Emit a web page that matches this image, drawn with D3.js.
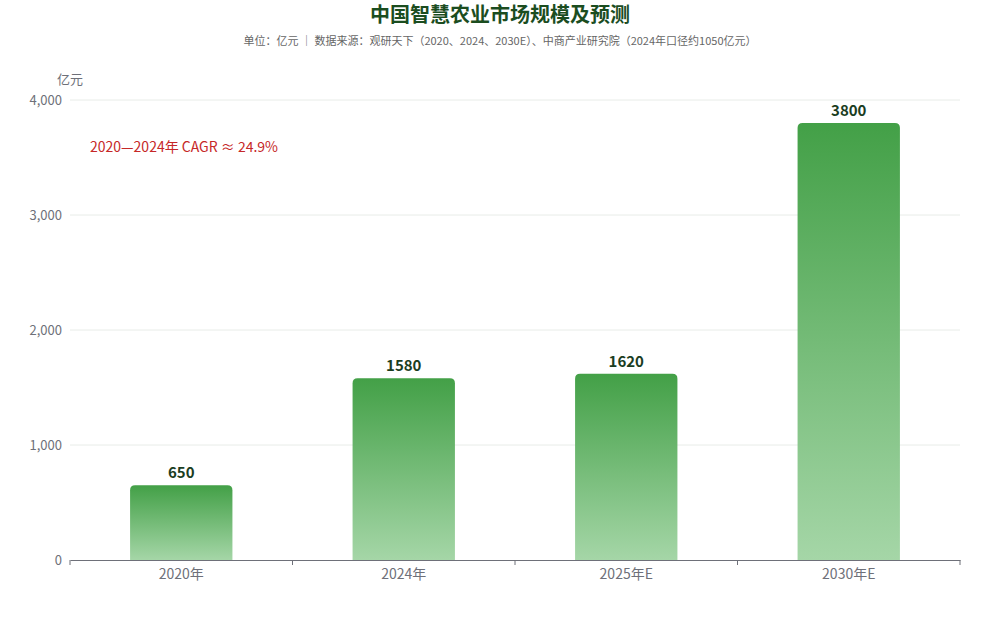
<!DOCTYPE html>
<html>
<head>
<meta charset="utf-8">
<script src="https://cdn.jsdelivr.net/npm/d3@7"></script>
<style>
  body { margin: 0; background: #fff; font-family: "Noto Sans CJK SC", "Noto Sans", sans-serif; }
</style>
</head>
<body>
<div id="chart"></div>
<script>
const categories = ["2020年", "2024年", "2025年E", "2030年E"];
const values = [650, 1580, 1620, 3800];
const yTicks = [0, 1000, 2000, 3000, 4000];

const W = 1000, H = 620;
const m = { top: 100, right: 40, bottom: 60, left: 70 };

const svg = d3.select("#chart").append("svg")
  .attr("width", W).attr("height", H)
  .style("font-family", '"Noto Sans CJK SC", "Noto Sans", sans-serif');

const defs = svg.append("defs");
const grad = defs.append("linearGradient")
  .attr("id", "barGrad").attr("x1", 0).attr("y1", 0).attr("x2", 0).attr("y2", 1);
grad.append("stop").attr("offset", "0%").attr("stop-color", "#43a047");
grad.append("stop").attr("offset", "100%").attr("stop-color", "#a5d6a7");

const x = d3.scaleBand().domain(categories).range([m.left, W - m.right]).paddingInner(0.54).paddingOuter(0.27);
const y = d3.scaleLinear().domain([0, 4000]).range([H - m.bottom, m.top]);

// title
svg.append("text").attr("x", W / 2).attr("y", 22).attr("text-anchor", "middle")
  .attr("font-size", 20).attr("font-weight", "bold").attr("fill", "#1b4d1f")
  .text("中国智慧农业市场规模及预测");
svg.append("text").attr("x", W / 2).attr("y", 45).attr("text-anchor", "middle")
  .attr("font-size", 11).attr("fill", "#666")
  .text("单位：亿元 ｜ 数据来源：观研天下（2020、2024、2030E）、中商产业研究院（2024年口径约1050亿元）");

// grid lines
svg.append("g").selectAll("line").data(yTicks.filter(d => d > 0)).join("line")
  .attr("x1", m.left).attr("x2", W - m.right)
  .attr("y1", d => y(d)).attr("y2", d => y(d))
  .attr("stroke", "#e8ece8").attr("stroke-width", 1);

// y axis labels
const yAxis = svg.append("g").attr("transform", `translate(${m.left},0)`)
  .call(d3.axisLeft(y).tickValues(yTicks).tickFormat(d3.format(",")).tickSize(0).tickPadding(8));
yAxis.select(".domain").remove();
yAxis.selectAll("text").attr("font-size", 13).attr("fill", "#6e7079")
  .style("font-family", '"Noto Sans CJK SC", "Noto Sans", sans-serif');

svg.append("text").attr("x", 70).attr("y", 84).attr("text-anchor", "middle")
  .attr("font-size", 13).attr("fill", "#6e7079").text("亿元");

// x axis
const xAxis = svg.append("g").attr("transform", `translate(0,${H - m.bottom})`)
  .call(d3.axisBottom(x).tickSize(0).tickPadding(9));
xAxis.select(".domain").attr("stroke", "#6e7079");
xAxis.selectAll("text").attr("font-size", 14).attr("fill", "#6e7079")
  .style("font-family", '"Noto Sans CJK SC", "Noto Sans", sans-serif');
const step = x.step();
const bounds = d3.range(categories.length + 1).map(i => m.left + i * (W - m.left - m.right) / categories.length);
xAxis.selectAll("line.bt").data(bounds).join("line").attr("class", "bt")
  .attr("x1", d => d).attr("x2", d => d).attr("y1", 0).attr("y2", 5)
  .attr("stroke", "#6e7079");

// bars with rounded top corners
const r = 5;
function barPath(d, i) {
  const x0 = x(categories[i]), w = x.bandwidth(), y0 = y(d), y1 = y(0);
  return `M${x0},${y1}V${y0 + r}Q${x0},${y0} ${x0 + r},${y0}H${x0 + w - r}Q${x0 + w},${y0} ${x0 + w},${y0 + r}V${y1}Z`;
}
svg.append("g").selectAll("path").data(values).join("path")
  .attr("d", barPath).attr("fill", "url(#barGrad)");

svg.append("g").selectAll("text").data(values).join("text")
  .attr("x", (d, i) => x(categories[i]) + x.bandwidth() / 2)
  .attr("y", d => y(d) - 7)
  .attr("text-anchor", "middle").attr("font-size", 15).attr("font-weight", "bold")
  .attr("fill", "#1b3d1f").text(d => d);

// annotation
svg.append("text").attr("x", 90).attr("y", 152)
  .attr("font-size", 14).attr("fill", "#c62828")
  .text("2020—2024年 CAGR ≈ 24.9%");
</script>
</body>
</html>
